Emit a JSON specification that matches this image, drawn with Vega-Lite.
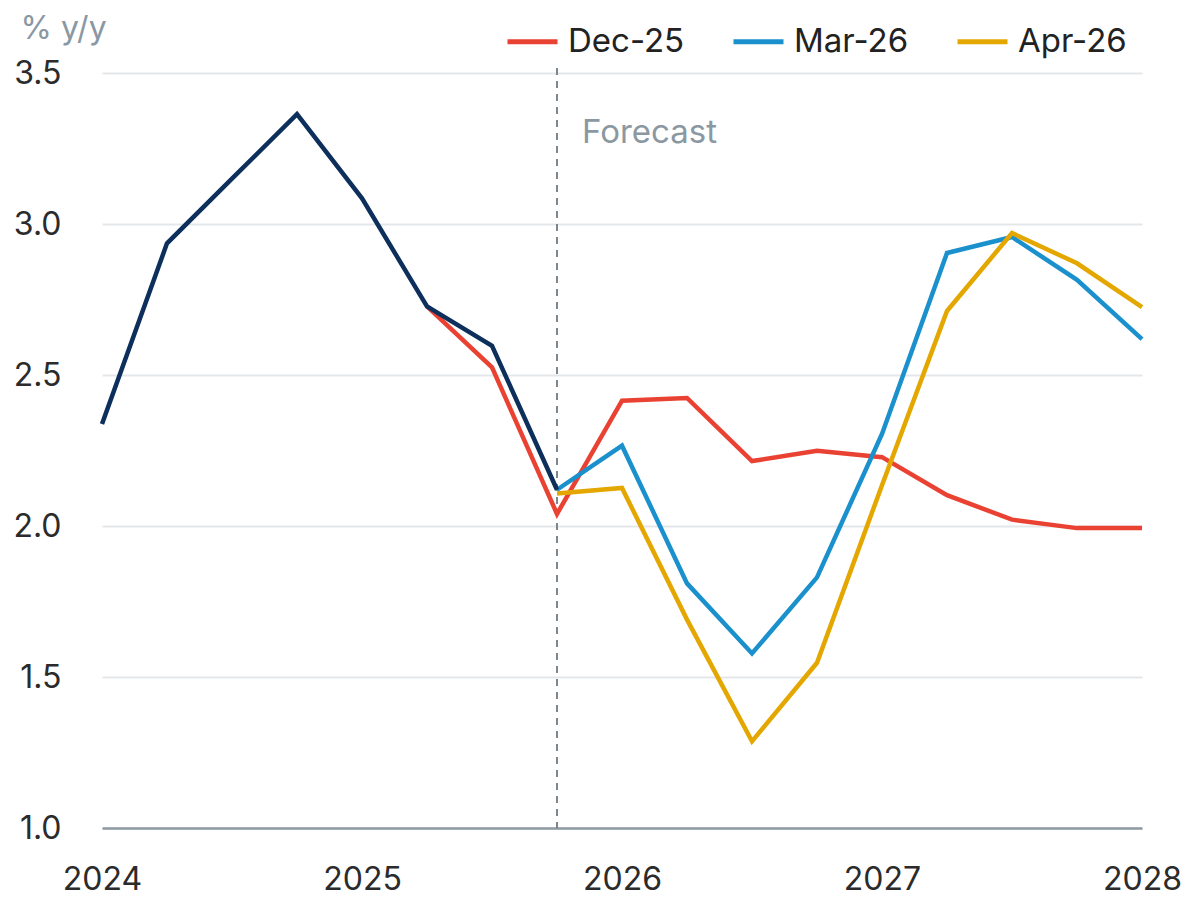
{
  "$schema": "https://vega.github.io/schema/vega-lite/v6.json",
  "autosize": {"type": "none"},
  "padding": {"left": 102, "top": 73, "right": 45, "bottom": 74},
  "width": 1040,
  "height": 755,
  "background": "white",
  "config": {
    "font": "Inter",
    "view": {"stroke": null}
  },
  "datasets": {
    "lines": [
      {"series": "Dec-25", "year": 2025.25, "value": 2.727},
      {"series": "Dec-25", "year": 2025.5, "value": 2.525},
      {"series": "Dec-25", "year": 2025.75, "value": 2.04},
      {"series": "Dec-25", "year": 2026, "value": 2.415},
      {"series": "Dec-25", "year": 2026.25, "value": 2.424},
      {"series": "Dec-25", "year": 2026.5, "value": 2.215},
      {"series": "Dec-25", "year": 2026.75, "value": 2.249},
      {"series": "Dec-25", "year": 2027, "value": 2.228},
      {"series": "Dec-25", "year": 2027.25, "value": 2.102},
      {"series": "Dec-25", "year": 2027.5, "value": 2.021},
      {"series": "Dec-25", "year": 2027.75, "value": 1.993},
      {"series": "Dec-25", "year": 2028, "value": 1.993},
      {"series": "Mar-26", "year": 2025.75, "value": 2.12},
      {"series": "Mar-26", "year": 2026, "value": 2.266},
      {"series": "Mar-26", "year": 2026.25, "value": 1.81},
      {"series": "Mar-26", "year": 2026.5, "value": 1.578},
      {"series": "Mar-26", "year": 2026.75, "value": 1.83},
      {"series": "Mar-26", "year": 2027, "value": 2.305},
      {"series": "Mar-26", "year": 2027.25, "value": 2.904},
      {"series": "Mar-26", "year": 2027.5, "value": 2.957},
      {"series": "Mar-26", "year": 2027.75, "value": 2.815},
      {"series": "Mar-26", "year": 2028, "value": 2.619},
      {"series": "Apr-26", "year": 2025.75, "value": 2.108},
      {"series": "Apr-26", "year": 2026, "value": 2.126},
      {"series": "Apr-26", "year": 2026.25, "value": 1.69},
      {"series": "Apr-26", "year": 2026.5, "value": 1.287},
      {"series": "Apr-26", "year": 2026.75, "value": 1.547},
      {"series": "Apr-26", "year": 2027, "value": 2.135},
      {"series": "Apr-26", "year": 2027.25, "value": 2.712},
      {"series": "Apr-26", "year": 2027.5, "value": 2.97},
      {"series": "Apr-26", "year": 2027.75, "value": 2.87},
      {"series": "Apr-26", "year": 2028, "value": 2.725},
      {"series": "Actual", "year": 2024, "value": 2.338},
      {"series": "Actual", "year": 2024.25, "value": 2.936},
      {"series": "Actual", "year": 2024.5, "value": 3.15},
      {"series": "Actual", "year": 2024.75, "value": 3.364},
      {"series": "Actual", "year": 2025, "value": 3.085},
      {"series": "Actual", "year": 2025.25, "value": 2.727},
      {"series": "Actual", "year": 2025.5, "value": 2.597},
      {"series": "Actual", "year": 2025.75, "value": 2.12}
    ],
    "marker": [{"year": 2025.75, "value": 3.3, "label": "Forecast"}]
  },
  "layer": [
    {
      "data": {"name": "marker"},
      "mark": {"type": "rule", "color": "#6f7b84", "strokeWidth": 1.8, "strokeDash": [7, 6], "y": -5, "y2": 755},
      "encoding": {
        "x": {"field": "year", "type": "quantitative", "scale": {"domain": [2024, 2028]}}
      }
    },
    {
      "data": {"name": "marker"},
      "mark": {"type": "text", "align": "left", "baseline": "middle", "dx": 25, "fontSize": 33, "color": "#8b98a2"},
      "encoding": {
        "x": {"field": "year", "type": "quantitative"},
        "y": {"field": "value", "type": "quantitative"},
        "text": {"field": "label"}
      }
    },
    {
      "data": {"name": "lines"},
      "mark": {"type": "line", "strokeWidth": 4.5, "strokeJoin": "miter"},
      "encoding": {
        "x": {
          "field": "year", "type": "quantitative",
          "scale": {"domain": [2024, 2028], "nice": false, "zero": false},
          "axis": {
            "title": null, "values": [2024, 2025, 2026, 2027, 2028], "format": "d",
            "grid": false, "ticks": false, "domainColor": "#8d9aa2", "domainWidth": 2.5,
            "labelFontSize": 32, "labelColor": "#2b2b2b", "labelPadding": 36, "labelFlush": false
          }
        },
        "y": {
          "field": "value", "type": "quantitative",
          "scale": {"domain": [1, 3.5], "nice": false, "zero": false},
          "axis": {
            "title": "% y/y", "titleAngle": 0, "titleAlign": "left", "titleBaseline": "alphabetic",
            "titleX": -82, "titleY": -35, "titleFontSize": 32, "titleFontWeight": "normal", "titleColor": "#8a98a3",
            "values": [1, 1.5, 2, 2.5, 3, 3.5], "format": ".1f",
            "domain": false, "ticks": false, "gridColor": "#e4e7e9", "gridWidth": 2,
            "labelFontSize": 32, "labelColor": "#2b2b2b", "labelPadding": 41, "labelBaseline": "middle"
          }
        },
        "color": {
          "field": "series", "type": "nominal",
          "scale": {"domain": ["Dec-25", "Mar-26", "Apr-26", "Actual"], "range": ["#ea4232", "#1a90cc", "#e4a700", "#0c2f5c"]},
          "legend": {
            "values": ["Dec-25", "Mar-26", "Apr-26"], "title": null, "orient": "none", "direction": "horizontal",
            "legendX": 403, "legendY": -59, "symbolType": "stroke", "symbolSize": 2500, "symbolStrokeWidth": 5,
            "labelFontSize": 33, "labelColor": "#222222", "labelOffset": 8, "columnPadding": 38, "labelLimit": 300
          }
        },
        "order": {"field": "year", "type": "quantitative"}
      }
    }
  ]
}
